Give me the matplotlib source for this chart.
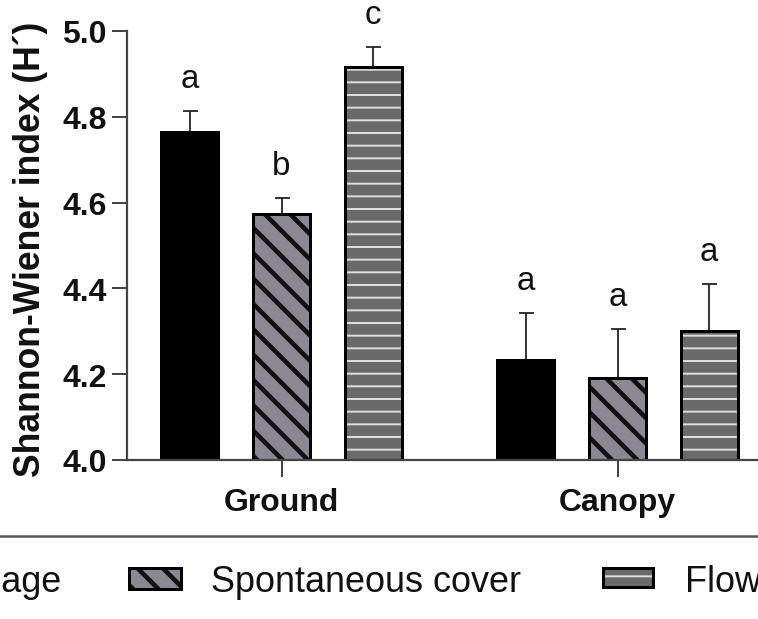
import matplotlib
matplotlib.use("Agg")
import matplotlib.pyplot as plt
from matplotlib.patches import Rectangle
import numpy as np

plt.rcParams['font.family'] = ['Liberation Sans', 'DejaVu Sans']

# Shannon-Wiener diversity per treatment, for ground and canopy strata
strata = ['Ground', 'Canopy']
treatments = ['Tillage', 'Spontaneous cover', 'Flower strips']
means = {
    'Tillage': [4.765, 4.233],
    'Spontaneous cover': [4.573, 4.191],
    'Flower strips': [4.916, 4.301],
}
errors = {
    'Tillage': [0.048, 0.110],
    'Spontaneous cover': [0.038, 0.114],
    'Flower strips': [0.047, 0.110],
}
letters = {
    'Tillage': ['a', 'a'],
    'Spontaneous cover': ['b', 'a'],
    'Flower strips': ['c', 'a'],
}
y_ticks = [4.0, 4.2, 4.4, 4.6, 4.8, 5.0]

DPI = 76
W, H = 758, 620


def px(v):
    """pixels -> points at the figure dpi"""
    return v * 72.0 / DPI


styles = {
    'Tillage': dict(face='black', hatch=None, hatch_color='black', hatch_lw=1),
    'Spontaneous cover': dict(face='#8b8894', hatch='\\', hatch_color='#111111', hatch_lw=px(4.6)),
    'Flower strips': dict(face='#6a6a6a', hatch='-', hatch_color='#dcdcdc', hatch_lw=px(2.0)),
}


def styled_rects(draw, name):
    """draws a fill+hatch layer and a black outline layer"""
    st = styles[name]
    fill = draw(facecolor=st['face'], edgecolor=st['hatch_color'],
                hatch=st['hatch'], linewidth=0)
    for p in fill:
        if hasattr(p, 'set_hatch_linewidth'):
            p.set_hatch_linewidth(st['hatch_lw'])
    draw(facecolor='none', edgecolor='black', linewidth=px(3))


fig = plt.figure(figsize=(W / DPI, H / DPI), dpi=DPI)
ax_left, ax_right, ax_top, ax_bottom = 127, 758, 32, 461
ax = fig.add_axes([ax_left / W, 1 - ax_bottom / H,
                   (ax_right - ax_left) / W, (ax_bottom - ax_top) / H])

group_gap = 3.664
bar_w = 0.62
centers = np.arange(len(strata)) * group_gap
offsets = [-1, 0, 1]

for name, off in zip(treatments, offsets):
    xs = centers + off
    m = np.array(means[name])
    e = np.array(errors[name])

    def draw(**kw):
        return ax.bar(xs, m - 4.0, bottom=4.0, width=bar_w, zorder=2, **kw)

    ax.errorbar(xs, m, yerr=[np.zeros_like(e), e], fmt='none',
                ecolor='#222222', elinewidth=px(1.8), capsize=px(7.5),
                capthick=px(1.8), zorder=1)
    styled_rects(draw, name)
    for x, top, lab in zip(xs, m + e, letters[name]):
        ax.annotate(lab, (x, top), xytext=(0, px(24)), textcoords='offset points',
                    ha='center', va='baseline', fontsize=px(33), color='#111111')

ax.set_xlim(-1.685, 5.196)
ax.set_ylim(4.0, 5.0)
ax.set_yticks(y_ticks)
ax.set_yticklabels([f'{t:.1f}' for t in y_ticks])
ax.set_xticks(centers)
ax.set_xticklabels(strata)

for s in ['top', 'right']:
    ax.spines[s].set_visible(False)
for s in ['left', 'bottom']:
    ax.spines[s].set_color('#444444')
    ax.spines[s].set_linewidth(px(2.2))

ax.tick_params(axis='y', direction='out', length=px(15), width=px(2),
               color='#444444', pad=px(5), labelsize=px(32))
ax.tick_params(axis='x', direction='out', length=px(17), width=px(2),
               color='#444444', pad=px(10), labelsize=px(32))
for lab in ax.get_yticklabels() + ax.get_xticklabels():
    lab.set_fontweight('bold')
    lab.set_color('#111111')

ax.set_ylabel('Shannon-Wiener index (H´)', fontsize=px(35.5),
              fontweight='bold', va='center', color='#111111')
ax.yaxis.set_label_coords((30 - ax_left) / (ax_right - ax_left),
                          (ax_bottom - 249) / (ax_bottom - ax_top))

# legend strip below the plot, laid out in pixel units
leg = fig.add_axes([0, 0, 1, 1], zorder=-1)
leg.set_xlim(0, W)
leg.set_ylim(H, 0)
leg.axis('off')
leg.plot([0, W], [537, 537], color='#555555', linewidth=px(2.5))

legend_items = [
    ('Tillage', None, 61),
    ('Spontaneous cover', (128.5, 568.5, 52, 21.5), 211),
    ('Flower strips', (602.5, 568.5, 50, 19.5), 685),
]
for name, box, tx in legend_items:
    if box is not None:
        bx, by, bw, bh = box

        def draw(**kw):
            r = Rectangle((bx, by), bw, bh, **kw)
            leg.add_patch(r)
            return [r]

        styled_rects(draw, name)
    ha = 'right' if box is None else 'left'
    leg.text(tx, 592, name, ha=ha, va='baseline', fontsize=px(36),
             color='#111111')

fig.savefig('out.png', dpi=DPI)
